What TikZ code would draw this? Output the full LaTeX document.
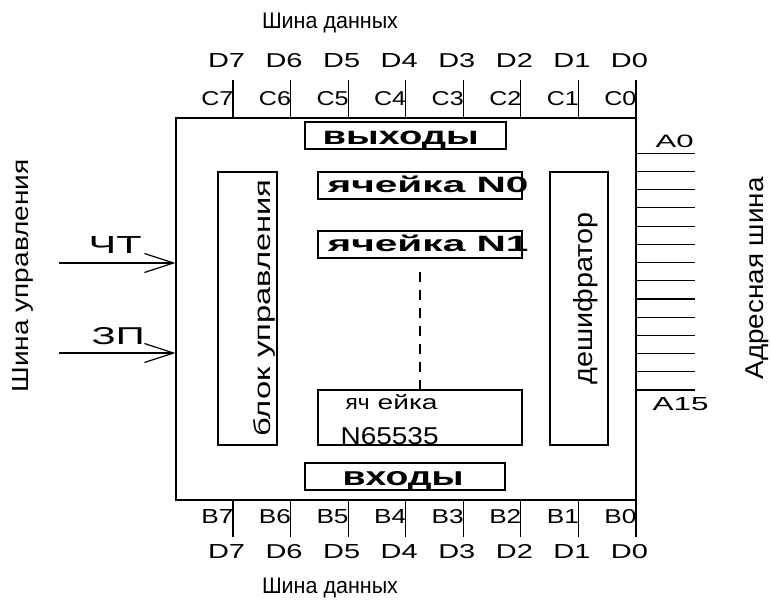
\documentclass[tikz,border=0pt]{standalone}
\usepackage{fontspec}
\usepackage{graphicx}
\setmainfont{Liberation Sans}
\usetikzlibrary{arrows.meta}
\newcommand{\fitT}[3]{\resizebox{#1bp}{#2bp}{#3}}
\begin{document}
\begin{tikzpicture}[x=1bp,y=-1bp,line width=1.2bp,
  box/.style={draw,inner sep=0pt},
  t/.style={inner sep=0pt,font=\fontsize{20}{22}\selectfont},
  bw/.style={t,anchor=base west},
  bc/.style={t,anchor=base},
  be/.style={t,anchor=base east},
  vt/.style={t,anchor=base west,rotate=90},
  arr/.style={-{Straight Barb[length=29bp,width=19bp]}}]
\useasboundingbox (0,0) rectangle (771,603);
% main chip
\node[box,minimum width=460bp,minimum height=382bp] (chip) at (406,309) {};
% inner boxes
\node[box,minimum width=201bp,minimum height=27bp] (out) at (405.5,135.5) {};
\node[box,minimum width=200bp,minimum height=27bp] (in) at (405,476.5) {};
\node[box,minimum width=59bp,minimum height=273bp] (ctrl) at (247.5,308.5) {};
\node[box,minimum width=204bp,minimum height=27bp] (c0) at (420,185.5) {};
\node[box,minimum width=204bp,minimum height=27bp] (c1) at (420,244.5) {};
\node[box,minimum width=204bp,minimum height=55bp] (cn) at (420,417.5) {};
\node[box,minimum width=58bp,minimum height=273bp] (dec) at (579,308.5) {};
% inner texts
\node[bw] (outT) at (322,145) {\fitT{156}{13.5}{\bfseries выходы}};
\node[bw] (inT) at (342,485) {\fitT{121}{14}{\bfseries входы}};
\node[vt] (ctrlT) at (270,437) {\fitT{257}{17}{блок управления}};
\node[vt] (decT) at (592,385) {\fitT{172}{19}{дешифратор}};
\node[bw] (c0T) at (327,193) {\fitT{201}{16.5}{\bfseries ячейка N0}};
\node[bw] (c1T) at (327,252) {\fitT{201}{16.5}{\bfseries ячейка N1}};
\node[bw] (cnA) at (345,409) {\fitT{24}{11}{яч}};
\node[bw] (cnB) at (377,409) {\fitT{60}{15}{ейка}};
\node[bw] (cnC) at (340,444) {\fitT{98}{17}{N65535}};
\coordinate (dots) at (420,272);
\draw[dash pattern=on 10bp off 8bp] (dots) -- (dots |- cn.north);
% data bus ticks and labels
\foreach \k/\d in {0/7,1/6,2/5,3/4,4/3,5/2,6/1,7/0}{
  \pgfmathsetmacro{\xx}{233+57.57*\k}
  \coordinate (t\k) at (\xx,80);
  \coordinate (b\k) at (\xx,537);
  \draw (t\k) -- (t\k |- chip.north);
  \draw (b\k) -- (b\k |- chip.south);
  \node[bc] (dt\k) at (\xx-6.5,68) {\fitT{37}{14}{D\d}};
  \node[be] (ct\k) at (\xx+1,106) {\fitT{32}{14}{C\d}};
  \node[be] (bb\k) at (\xx+1,523) {\fitT{32}{14}{B\d}};
  \node[bc] (db\k) at (\xx-6.5,558) {\fitT{37}{14}{D\d}};
}
\node[bc] (busT) at (330,29) {\fitT{136}{15.5}{Шина данных}};
\node[bc] (busB) at (330,593) {\fitT{136}{15.5}{Шина данных}};
% address bus
\foreach \k in {0,...,13}{
  \pgfmathsetmacro{\yy}{153.3+18.2*\k}
  \coordinate (a\k) at (695,\yy);
  \draw (a\k) -- (a\k -| chip.east);
}
\node[bw] (A0) at (655,148) {\fitT{38}{12.5}{A0}};
\node[bw] (A15) at (652,410) {\fitT{56}{13}{A15}};
\node[vt] (addr) at (763,380) {\fitT{202}{17.7}{Адресная шина}};
% control bus
\node[vt] (ctl) at (28,393) {\fitT{233}{16}{Шина управления}};
\coordinate (rd) at (59,263);
\coordinate (wr) at (59,353);
\draw[arr] (rd) -- (rd -| chip.west);
\draw[arr] (wr) -- (wr -| chip.west);
\node[bw] (rdT) at (88,253) {\fitT{53}{17}{ЧТ}};
\node[bw] (wrT) at (91,344) {\fitT{53}{17}{ЗП}};
\end{tikzpicture}
\end{document}
